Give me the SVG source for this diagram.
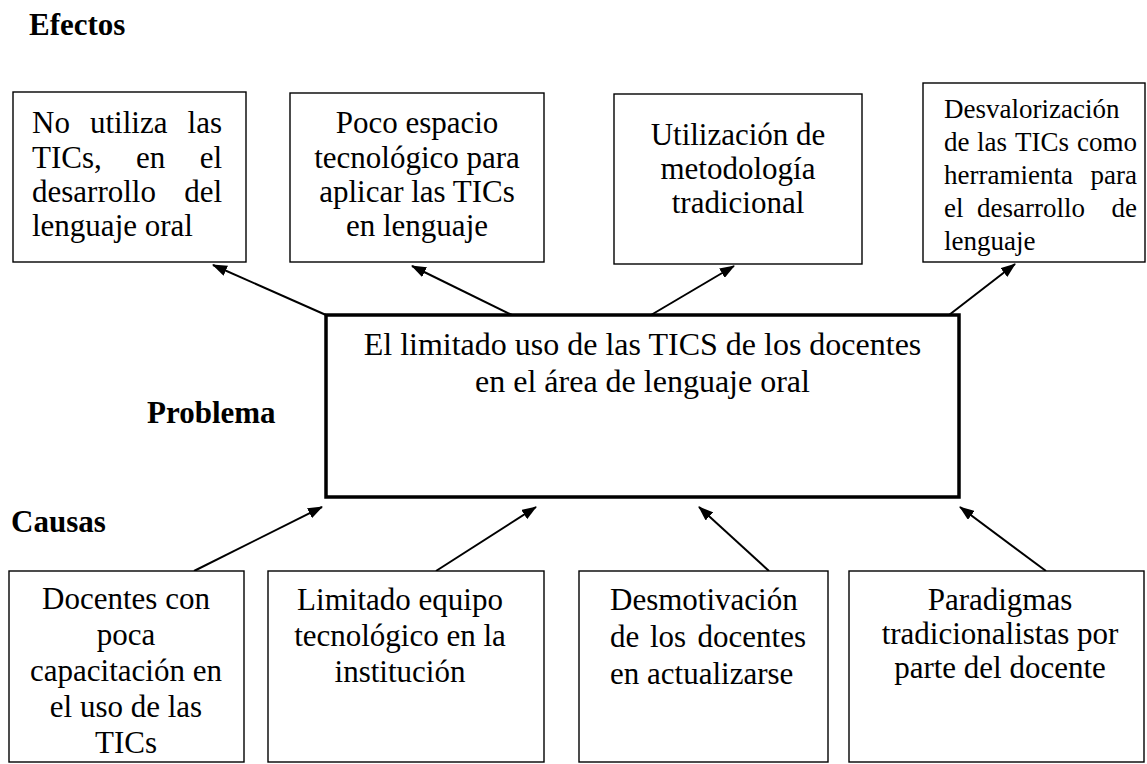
<svg xmlns="http://www.w3.org/2000/svg" width="1147" height="764" viewBox="0 0 1147 764">
<style>
text{font-family:"Liberation Serif","Times New Roman",serif;font-size:31px;fill:#000}
.lbl{font-weight:bold}
.c{text-anchor:middle}
.e{text-anchor:end}
.sm{font-size:27px}
.big{font-size:32px}
.box{fill:#fff;stroke:#000;stroke-width:1.4}
.main{fill:#fff;stroke:#000;stroke-width:3.5}
.arr{stroke:#000;stroke-width:2;fill:none;marker-end:url(#ah)}
</style>
<defs>
<marker id="ah" markerUnits="userSpaceOnUse" markerWidth="15" markerHeight="11" refX="14" refY="5.5" orient="auto">
<path d="M0,0 L15,5.5 L0,11 z" fill="#000"/>
</marker>
</defs>
<rect width="1147" height="764" fill="#fff"/>
<g id="labels">
<text class="lbl" x="29" y="35">Efectos</text>
<text class="lbl" x="147" y="423">Problema</text>
<text class="lbl" x="11" y="532">Causas</text>
</g>
<g id="connectors">
<line class="arr" x1="326" y1="315" x2="213" y2="265"/>
<line class="arr" x1="512" y1="315" x2="412" y2="266"/>
<line class="arr" x1="651" y1="315" x2="734" y2="266"/>
<line class="arr" x1="949" y1="315" x2="1015" y2="264"/>
<line class="arr" x1="194" y1="571" x2="322" y2="507"/>
<line class="arr" x1="436" y1="571" x2="536" y2="507"/>
<line class="arr" x1="769" y1="571" x2="699" y2="507"/>
<line class="arr" x1="1046" y1="571" x2="960" y2="507"/>
</g>
<g id="effect1">
<rect class="box" x="13" y="92" width="233" height="170"/>
<text x="32" y="133">No</text><text x="90" y="133">utiliza</text><text class="e" x="222" y="133">las</text>
<text x="32" y="168">TICs,</text><text x="136" y="168">en</text><text class="e" x="222" y="168">el</text>
<text x="32" y="202">desarrollo</text><text class="e" x="222" y="202">del</text>
<text x="32" y="236">lenguaje oral</text>
</g>
<g id="effect2">
<rect class="box" x="290" y="93" width="254" height="169"/>
<text class="c" x="417" y="133">Poco espacio</text>
<text class="c" x="417" y="168">tecnológico para</text>
<text class="c" x="417" y="202">aplicar las TICs</text>
<text class="c" x="417" y="236">en lenguaje</text>
</g>
<g id="effect3">
<rect class="box" x="614" y="94" width="248" height="170"/>
<text class="c" x="738" y="145">Utilización de</text>
<text class="c" x="738" y="179">metodología</text>
<text class="c" x="738" y="213">tradicional</text>
</g>
<g id="effect4">
<rect class="box" x="923" y="83" width="222" height="179"/>
<text class="sm" x="944" y="118">Desvalorización</text>
<text class="sm" x="944" y="151">de</text><text class="sm" x="977" y="151">las</text><text class="sm" x="1015" y="151">TICs</text><text class="sm e" x="1137" y="151">como</text>
<text class="sm" x="944" y="184">herramienta</text><text class="sm e" x="1137" y="184">para</text>
<text class="sm" x="944" y="217">el</text><text class="sm" x="977" y="217">desarrollo</text><text class="sm e" x="1137" y="217">de</text>
<text class="sm" x="944" y="250">lenguaje</text>
</g>
<g id="problem">
<rect class="main" x="326" y="315" width="633" height="182"/>
<text class="c big" x="642.5" y="355">El limitado uso de las TICS de los docentes</text>
<text class="c big" x="642.5" y="392">en el área de lenguaje oral</text>
</g>
<g id="cause1">
<rect class="box" x="9" y="571" width="235" height="191"/>
<text class="c" x="126" y="609">Docentes con</text>
<text class="c" x="126" y="645">poca</text>
<text class="c" x="126" y="681">capacitación en</text>
<text class="c" x="126" y="717">el uso de las</text>
<text class="c" x="126" y="753">TICs</text>
</g>
<g id="cause2">
<rect class="box" x="268" y="571" width="276" height="191"/>
<text class="c" x="400" y="610">Limitado equipo</text>
<text class="c" x="400" y="646">tecnológico en la</text>
<text class="c" x="400" y="682">institución</text>
</g>
<g id="cause3">
<rect class="box" x="579" y="571" width="249" height="191"/>
<text x="610" y="610">Desmotivación</text>
<text x="610" y="647">de</text><text x="650" y="647">los</text><text class="e" x="806" y="647">docentes</text>
<text x="610" y="684">en actualizarse</text>
</g>
<g id="cause4">
<rect class="box" x="849" y="571" width="295" height="191"/>
<text class="c" x="1000" y="610">Paradigmas</text>
<text class="c" x="1000" y="644">tradicionalistas por</text>
<text class="c" x="1000" y="678">parte del docente</text>
</g>
</svg>
